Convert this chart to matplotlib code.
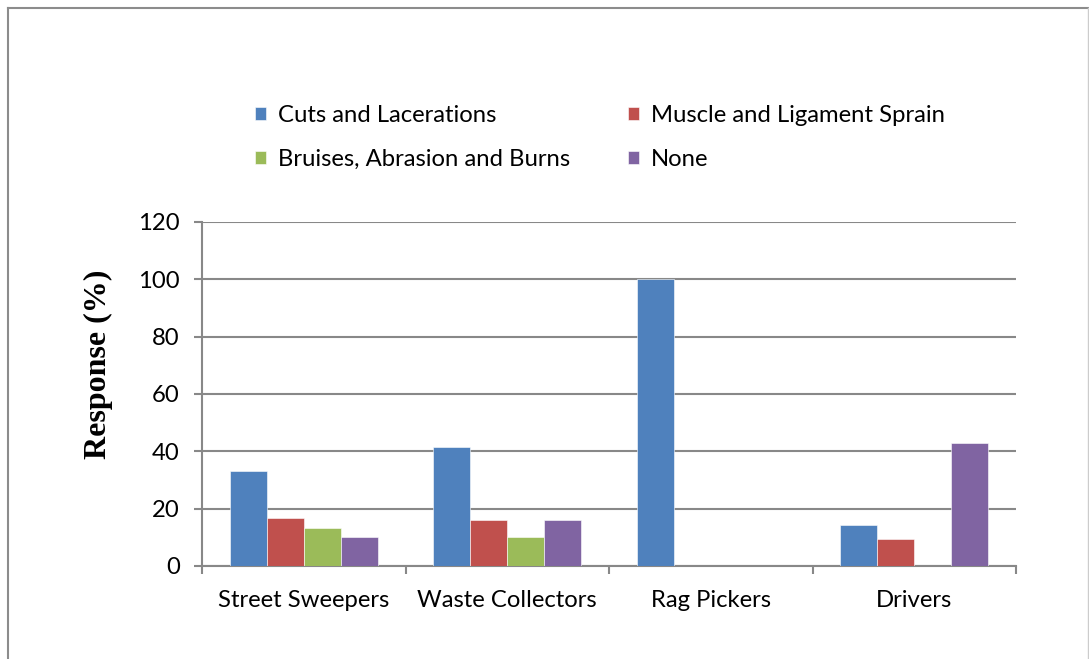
import matplotlib.pyplot as plt
import numpy as np
from matplotlib.lines import Line2D

categories = ["Street Sweepers", "Waste Collectors", "Rag Pickers", "Drivers"]
series = ["Cuts and Lacerations", "Muscle and Ligament Sprain",
          "Bruises, Abrasion and Burns", "None"]
cuts = [33.3, 41.4, 100, 14.3]
muscle = [16.7, 16.0, 0, 9.5]
bruises = [13.3, 10.2, 0, 0]
none = [10.0, 16.0, 0, 42.9]
yticks = [0, 20, 40, 60, 80, 100, 120]

colors = ["#4F81BD", "#C0504D", "#9BBB59", "#8064A2"]
font = "Lato"
fs = 17.2

fig = plt.figure(figsize=(10.89, 6.59), dpi=100)
ax = fig.add_axes([202 / 1089, 1 - 566 / 659, (1016 - 202) / 1089, (566 - 222) / 659])

x = np.arange(len(categories))
w = 1 / 5.5
values = [cuts, muscle, bruises, none]
bars = []
for i, (vals, name, c) in enumerate(zip(values, series, colors)):
    b = ax.bar(x + (i - 1.5) * w, vals, width=w, color=c, label=name,
               edgecolor="white", linewidth=0.4, zorder=3)
    bars.append(b)

ax.set_xlim(-0.5, len(categories) - 0.5)
ax.set_ylim(0, 120)
ax.set_yticks(yticks)
ax.set_yticklabels([str(v) for v in yticks], fontsize=fs, family=font)
ax.set_xticks(x)
ax.set_xticklabels(categories, fontsize=fs, family=font)
ax.set_xticks(np.arange(-0.5, len(categories)), minor=True)
ax.tick_params(axis="x", which="major", length=0, pad=17)
ax.tick_params(axis="x", which="minor", length=6, width=1.5, color="#888888",
               direction="out")
ax.tick_params(axis="y", length=6, width=1.5, color="#888888", pad=10)
ax.grid(axis="y", color="#888888", linewidth=1.5, zorder=0)

for side in ["top", "right"]:
    ax.spines[side].set_visible(False)
for side in ["left", "bottom"]:
    ax.spines[side].set_color("#888888")
    ax.spines[side].set_linewidth(1.5)

ax.set_ylabel("Response (%)", family="Liberation Serif", fontweight="bold",
              fontsize=23)
ax.yaxis.set_label_coords((113 - 202) / 814, (566 - 364) / 344)

# legend rows: Cuts | Muscle, then Bruises | None (column-major fill)
order = [0, 2, 1, 3]
fig.legend([bars[i] for i in order], [series[i] for i in order],
           loc="upper left", bbox_to_anchor=(255 / 1089, 1 - 105 / 659),
           ncol=2, frameon=False, prop={"family": font, "size": fs},
           handlelength=0.45, handleheight=0.45, handletextpad=0.52,
           columnspacing=2.42, labelspacing=0.95, borderpad=0, borderaxespad=0)

# outer chart border
gray = "#8c8c8c"
top = 1 - 7.5 / 659
fig.add_artist(Line2D([8 / 1089, 8 / 1089], [0, top], color=gray, lw=1.5))
fig.add_artist(Line2D([8 / 1089, 1088 / 1089], [top, top], color=gray, lw=1.5))
fig.add_artist(Line2D([1087.5 / 1089, 1087.5 / 1089], [0, top], color="#cccccc", lw=1))

fig.savefig("out.png", dpi=100)
